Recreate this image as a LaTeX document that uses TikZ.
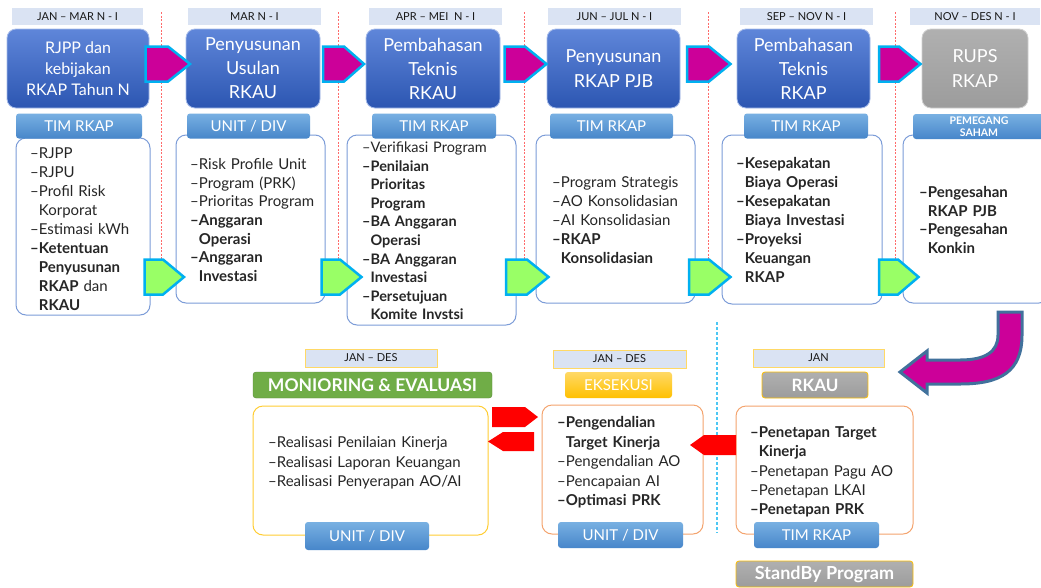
\documentclass[tikz,border=0pt]{standalone}
\usepackage{fontspec}
\setmainfont{Lato}
\usepackage{tikz}
\definecolor{stageT}{HTML}{5F86D9}
\definecolor{stageB}{HTML}{2C56B2}
\definecolor{roleT}{HTML}{78B0E2}
\definecolor{roleB}{HTML}{4786CA}
\definecolor{datefill}{HTML}{DAE3F3}
\definecolor{cardline}{HTML}{7C9CD8}
\definecolor{magen}{HTML}{CC0099}
\definecolor{cyanb}{HTML}{00B0F0}
\definecolor{lime}{HTML}{99FF66}
\definecolor{sepred}{HTML}{FF6A6A}
\definecolor{grayT}{HTML}{B0B0B0}
\definecolor{grayB}{HTML}{9C9C9C}
\definecolor{gold}{HTML}{FFC000}
\definecolor{goldlt}{HTML}{FFD966}
\definecolor{orng}{HTML}{F4A46E}
\definecolor{evalgreen}{HTML}{70AD47}
\definecolor{steel}{HTML}{41719C}
\definecolor{txt}{HTML}{262626}

\newcommand\itm{\textendash}
\newcommand\gap{\hphantom{\textendash}}

\begin{document}
\begin{tikzpicture}[x=1pt,y=-1pt,
  datebox/.style={fill=datefill,minimum width=131pt,minimum height=17pt,inner sep=0pt,font=\fontsize{11}{12}\selectfont,text=black!90},
  dateboxb/.style={datebox,draw=goldlt,line width=0.8pt},
  stagebox/.style={rounded corners=9pt,top color=stageT,bottom color=stageB,draw=stageT!55!white,line width=0.8pt,minimum height=79pt,align=center,text=white,font=\fontsize{18}{24}\selectfont,inner sep=0pt},
  rolebox/.style={rounded corners=3pt,top color=roleT,bottom color=roleB,minimum height=25pt,minimum width=124pt,text=white,font=\fontsize{15}{18}\selectfont,inner sep=0pt},
  cardbox/.style={draw=cardline,line width=1pt,fill=white,rounded corners=10pt,inner sep=0pt},
  listtxt/.style={anchor=north west,align=left,text width=200pt,inner sep=0pt,text=txt,font=\fontsize{15}{19}\selectfont,execute at begin node=\strut},
  flowM/.style={fill=magen,draw=cyanb,line width=2.5pt,line join=miter},
  flowG/.style={flowM,fill=lime},
  redflow/.style={fill=red},
  sepline/.style={draw=sepred,line width=1pt,dash pattern=on 2pt off 1.5pt},
  sepblue/.style={draw=cyanb!70,line width=1.2pt,dash pattern=on 3pt off 2pt}
]
\fill[white] (0,0) rectangle (1041,587);
\useasboundingbox (0,0) rectangle (1041,587);

% dividers
\draw[sepline] (161,12) -- (161,262);
\draw[sepline] (338,12) -- (338,262);
\draw[sepline] (524,12) -- (524,262);
\draw[sepline] (708,12) -- (708,262);
\draw[sepline] (895,12) -- (895,262);
\draw[sepblue] (717,322) -- (717,533);

% top row
\node[datebox] (d1) at (77.5,16.5) {JAN – MAR N - I};
\node[datebox,minimum width=133pt] (d2) at (254.5,16.5) {MAR N - I};
\node[datebox,minimum width=133pt] (d3) at (435.5,16.5) {APR – MEI \ N - I};
\node[datebox,minimum width=133pt] (d4) at (614.5,16.5) {JUN – JUL N - I};
\node[datebox,minimum width=133pt] (d5) at (806.5,16.5) {SEP – NOV N - I};
\node[datebox,minimum width=130pt] (d6) at (975,16.5) {NOV – DES N - I};

\node[stagebox,minimum width=142pt,font=\fontsize{16}{21}\selectfont] (s1) at (78,68.5) {RJPP dan\\kebijakan\\RKAP Tahun N};
\node[stagebox,minimum width=134pt] (s2) at (253,68.5) {Penyusunan\\Usulan\\RKAU};
\node[stagebox,minimum width=134pt] (s3) at (433,68.5) {Pembahasan\\Teknis\\RKAU};
\node[stagebox,minimum width=133pt,font=\fontsize{18}{25}\selectfont] (s4) at (613.5,68.5) {Penyusunan\\RKAP PJB};
\node[stagebox,minimum width=133pt] (s5) at (803.5,68.5) {Pembahasan\\Teknis\\RKAP};
\node[stagebox,minimum width=106pt,top color=grayT,bottom color=grayB,draw=grayT!60!white,font=\fontsize{18}{25}\selectfont] (s6) at (975,68.5) {RUPS\\RKAP};

\node[cardbox,minimum width=134pt,minimum height=177pt] (c1) at (83,226.5) {};
\node[cardbox,minimum width=149pt,minimum height=168pt] (c2) at (250.5,219) {};
\node[cardbox,minimum width=169pt,minimum height=190pt] (c3) at (431.5,230) {};
\node[cardbox,minimum width=159pt,minimum height=168pt] (c4) at (615.5,219) {};
\node[cardbox,minimum width=160pt,minimum height=169pt] (c5) at (802,219.5) {};
\node[cardbox,minimum width=146pt,minimum height=168pt] (c6) at (976,219) {};

\node[rolebox,minimum width=126pt] (r1) at (79,126) {TIM RKAP};
\node[rolebox,minimum width=123pt] (r2) at (248.5,126) {UNIT / DIV};
\node[rolebox] (r3) at (434,126) {TIM RKAP};
\node[rolebox,minimum width=123pt] (r4) at (611.5,126) {TIM RKAP};
\node[rolebox] (r5) at (806,126) {TIM RKAP};
\node[rolebox,minimum width=132pt,align=center,font=\bfseries\fontsize{10.5}{11.5}\selectfont] (r6) at (979,126.5) {PEMEGANG\\SAHAM};

% hand-over pointers
\filldraw[flowM] (145.5,46.5) -- (168,46.5) -- (190,64) -- (168,81.5) -- (145.5,81.5) -- cycle;
\filldraw[flowM] (323,46.5) -- (344,46.5) -- (364,64) -- (344,81.5) -- (323,81.5) -- cycle;
\filldraw[flowM] (504.5,46.5) -- (525,46.5) -- (546.5,64) -- (525,81.5) -- (504.5,81.5) -- cycle;
\filldraw[flowM] (687,46.5) -- (709,46.5) -- (730.5,64) -- (709,81.5) -- (687,81.5) -- cycle;
\filldraw[flowM] (879,46.5) -- (899,46.5) -- (920.5,64) -- (899,81.5) -- (879,81.5) -- cycle;
\filldraw[flowG] (144.5,259.5) -- (163,259.5) -- (184,277) -- (163,294.5) -- (144.5,294.5) -- cycle;
\filldraw[flowG] (321.5,259.5) -- (340,259.5) -- (361.5,277) -- (340,294.5) -- (321.5,294.5) -- cycle;
\filldraw[flowG] (506,259.5) -- (527,259.5) -- (548.5,277) -- (527,294.5) -- (506,294.5) -- cycle;
\filldraw[flowG] (689,259.5) -- (709,259.5) -- (730.5,277) -- (709,294.5) -- (689,294.5) -- cycle;
\filldraw[flowG] (879,259.5) -- (898,259.5) -- (918.5,277) -- (898,294.5) -- (879,294.5) -- cycle;

\node[listtxt] (t1) at (30,145) {\itm RJPP\\ \itm RJPU\\ \itm Profil Risk\\ \gap Korporat\\ \itm Estimasi kWh\\ \textbf{\itm Ketentuan}\\ \textbf{\gap Penyusunan}\\ \textbf{\gap RKAP} dan\\ \textbf{\gap RKAU}};
\node[listtxt,font=\fontsize{15}{18.6}\selectfont] (t2) at (190,156.4) {\itm Risk Profile Unit\\ \itm Program (PRK)\\ \itm Prioritas Program\\ \textbf{\itm Anggaran}\\ \textbf{\gap Operasi}\\ \textbf{\itm Anggaran}\\ \textbf{\gap Investasi}};
\node[listtxt,font=\fontsize{14.5}{18.6}\selectfont] (t3) at (362,139.2) {\itm Verifikasi Program\\ \textbf{\itm Penilaian}\\ \textbf{\gap Prioritas}\\ \textbf{\gap Program}\\ \textbf{\itm BA Anggaran}\\ \textbf{\gap Operasi}\\ \textbf{\itm BA Anggaran}\\ \textbf{\gap Investasi}\\ \textbf{\itm Persetujuan}\\ \textbf{\gap Komite Invstsi}};
\node[listtxt] (t4) at (552,174) {\itm Program Strategis\\ \itm AO Konsolidasian\\ \itm AI Konsolidasian\\ \textbf{\itm RKAP}\\ \textbf{\gap Konsolidasian}};
\node[listtxt] (t5) at (736,155) {\textbf{\itm Kesepakatan}\\ \textbf{\gap Biaya Operasi}\\ \textbf{\itm Kesepakatan}\\ \textbf{\gap Biaya Investasi}\\ \textbf{\itm Proyeksi}\\ \textbf{\gap Keuangan}\\ \textbf{\gap RKAP}};
\node[listtxt,font=\fontsize{15}{18.7}\selectfont] (t6) at (919,184.3) {\textbf{\itm Pengesahan}\\ \textbf{\gap RKAP PJB}\\ \textbf{\itm Pengesahan}\\ \textbf{\gap Konkin}};

% curved hand-over to the next year
\filldraw[fill=magen,draw=steel,line width=3pt,line join=miter]
  (998,312) -- (1022,312) -- (1022,335) .. controls (1022,372) and (1000,384) .. (960,384)
  -- (927,384) -- (927,393) -- (900,372) -- (927,351) -- (927,360) -- (960,360)
  .. controls (985,360) and (998,352) .. (998,335) -- cycle;

% bottom row
\node[dateboxb,minimum width=132pt,minimum height=18pt] (dm) at (371,358) {JAN – DES};
\node[dateboxb,minimum width=133pt,minimum height=18pt] (de) at (619.5,359) {JAN – DES};
\node[dateboxb,minimum width=131pt,minimum height=18pt] (dr) at (818.5,358) {JAN};

\node[rolebox,minimum width=239pt,minimum height=26pt,top color=evalgreen,bottom color=evalgreen,draw=evalgreen!80!black,font=\bfseries\fontsize{17.5}{18}\selectfont] (hm) at (372.5,385) {MONIORING \& EVALUASI};
\node[rolebox,minimum width=107pt,minimum height=26pt,top color=gold!60,bottom color=gold] (he) at (618.5,385) {EKSEKUSI};
\node[rolebox,minimum width=106pt,minimum height=26pt,top color=grayT,bottom color=grayB,draw=gold,line width=0.8pt,font=\bfseries\fontsize{17}{18}\selectfont] (hr) at (815,385) {RKAU};

\node[cardbox,draw=gold!80,minimum width=235pt,minimum height=129pt] (cm) at (370.5,470.5) {};
\node[cardbox,draw=orng,minimum width=161pt,minimum height=129pt] (ce) at (622.5,469.5) {};
\node[cardbox,draw=orng,minimum width=177pt,minimum height=128pt] (cr) at (824.5,470) {};

\node[rolebox,minimum height=28pt] (fm) at (367,536) {UNIT / DIV};
\node[rolebox,minimum width=125pt,minimum height=26pt] (fe) at (620.5,535) {UNIT / DIV};
\node[rolebox,minimum width=125pt,minimum height=26pt] (fr) at (816.5,535) {TIM RKAP};
\node[rolebox,minimum width=177pt,minimum height=26pt,top color=grayT,bottom color=grayB,draw=gold,line width=0.8pt,font=\bfseries\fontsize{18}{18}\selectfont] (sb) at (824.5,574) {StandBy Program};

% red pointers between the execution stages
\fill[redflow] (492,407) -- (525,407) -- (538,417) -- (525,427) -- (492,427) -- cycle;
\fill[redflow] (534,432) -- (503,432) -- (488,441.5) -- (503,451) -- (534,451) -- cycle;
\fill[redflow] (736,435) -- (704,435) -- (690,445) -- (704,455) -- (736,455) -- cycle;

\node[listtxt,font=\fontsize{15}{19.5}\selectfont] (tm) at (268,433.8) {\itm Realisasi Penilaian Kinerja\\ \itm Realisasi Laporan Keuangan\\ \itm Realisasi Penyerapan AO/AI};
\node[listtxt,font=\fontsize{15}{19.5}\selectfont] (te) at (557,413.8) {\textbf{\itm Pengendalian}\\ \textbf{\gap Target Kinerja}\\ \itm Pengendalian AO\\ \itm Pencapaian AI\\ \textbf{\itm Optimasi PRK}};
\node[listtxt,font=\fontsize{15}{19.25}\selectfont] (tr) at (750,423.9) {\textbf{\itm Penetapan Target}\\ \textbf{\gap Kinerja}\\ \itm Penetapan Pagu AO\\ \itm Penetapan LKAI\\ \textbf{\itm Penetapan PRK}};
\end{tikzpicture}
\end{document}
